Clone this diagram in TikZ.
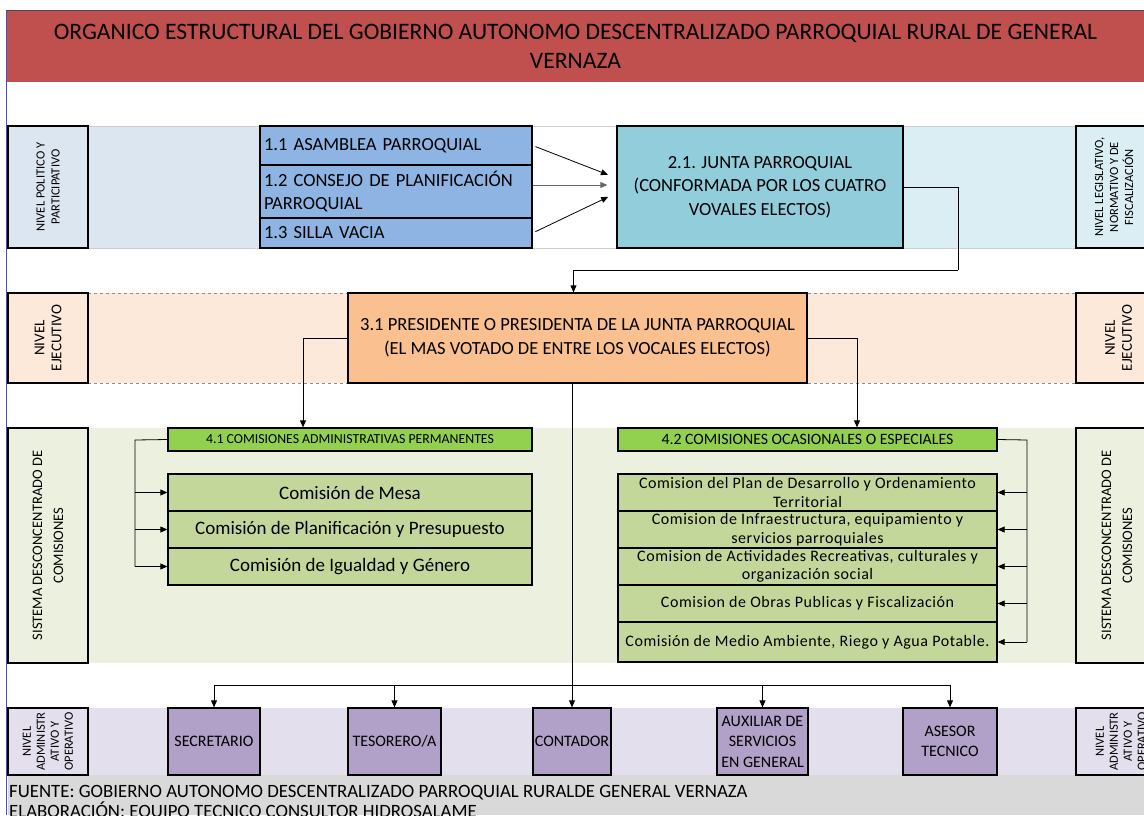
\documentclass[tikz,border=0pt]{standalone}
\usepackage{fontspec}
\setmainfont{Carlito}
\usetikzlibrary{arrows.meta,calc}
\definecolor{gvTitle}{HTML}{C0504D}
\definecolor{gvEdge}{HTML}{4B4BC8}
\definecolor{gvPolBand}{HTML}{DCE6F1}
\definecolor{gvLegBand}{HTML}{DAEEF3}
\definecolor{gvPolBox}{HTML}{8DB4E2}
\definecolor{gvJunta}{HTML}{92CDDC}
\definecolor{gvExeBand}{HTML}{FDE9D9}
\definecolor{gvPres}{HTML}{FAC090}
\definecolor{gvComBand}{HTML}{EBF1DE}
\definecolor{gvComHead}{HTML}{92D050}
\definecolor{gvComBox}{HTML}{C4D79B}
\definecolor{gvAdmBand}{HTML}{E4DFEC}
\definecolor{gvAdmBox}{HTML}{B1A0C7}
\definecolor{gvFoot}{HTML}{D9D9D9}
\newcommand{\gvfs}[2]{\fontsize{#1}{#2}\selectfont}

\begin{document}
\begin{tikzpicture}[
  x=1pt, y=-1pt,
  font=\gvfs{18.5}{23.5},
  box/.style={draw=black, line width=1.3pt, inner sep=2pt, align=center, text=black},
  side/.style={box, rotate=90, font=\gvfs{12.5}{15}},
  polbox/.style={box, fill=gvPolBox, minimum width=272pt, text width=264pt, align=left, inner sep=3pt},
  combox/.style={box, fill=gvComBox, minimum width=364pt, minimum height=37pt, inner sep=0pt, font=\gvfs{19}{22}},
  ocabox/.style={box, fill=gvComBox, minimum width=379pt, minimum height=37pt, inner sep=0pt,
    font=\gvfs{16}{18.5}\addfontfeatures{LetterSpace=3.5}},
  head/.style={box, fill=gvComHead, minimum height=23pt, inner sep=0pt, font=\gvfs{13.8}{15}},
  admbox/.style={box, fill=gvAdmBox, minimum height=67pt, inner sep=0pt, font=\gvfs{16}{20.5}},
  flow/.style={-{Triangle[length=7pt,width=6pt]}, line width=0.8pt},
  link/.style={line width=0.8pt}
]
\useasboundingbox (0,0) rectangle (1144,815);
\clip (0,0) rectangle (1144,815);
\fill[white] (0,0) rectangle (1144,815);

% ---- title ----------------------------------------------------------------
\draw[black!70, line width=0.6pt] (7,10) -- (1144,10);
\node[fill=gvTitle, minimum width=1137pt, minimum height=71pt, inner sep=0pt, align=center,
  font=\gvfs{23.6}{29}] (title) at (575.5,46.5)
  {ORGANICO ESTRUCTURAL DEL GOBIERNO AUTONOMO DESCENTRALIZADO PARROQUIAL RURAL DE GENERAL\\VERNAZA};

% ---- nivel politico / legislativo ------------------------------------------
\fill[gvPolBand] (88,126) rectangle (260,248);
\fill[gvLegBand] (903,126) rectangle (1076,248);
\draw[black!20, line width=1pt] (88,126) -- (1076,126) (88,248) -- (1076,248);
\node[side, fill=gvPolBand, minimum width=122pt, minimum height=80pt] (polLbl) at (48,187) {NIVEL POLITICO Y\\PARTICIPATIVO};
\node[polbox, minimum height=39pt] (asam) at (396,145.5) {1.1 ASAMBLEA PARROQUIAL};
\node[polbox, minimum height=53pt] (consejo) at (396,191.5) {1.2 CONSEJO DE PLANIFICACIÓN\\PARROQUIAL};
\node[polbox, minimum height=30pt] (silla) at (396,233) {1.3 SILLA VACIA};
\node[box, fill=gvJunta, minimum width=286pt, minimum height=122pt] (junta) at (760,187)
  {2.1. JUNTA PARROQUIAL\\(CONFORMADA POR LOS CUATRO\\VOVALES ELECTOS)};
\node[side, fill=gvLegBand, minimum width=122pt, minimum height=76pt] (legLbl) at (1114,187)
  {NIVEL LEGISLATIVO,\\NORMATIVO Y DE\\FISCALIZACIÓN};

\draw[flow, shorten <=3pt, shorten >=9pt] (asam.east) -- ($(junta.west)+(0,-9)$);
\draw[flow, black!60, shorten >=9pt] ($(consejo.east)+(0,-6.5)$) -- ($(junta.west)+(0,-2)$);
\draw[flow, shorten <=3pt, shorten >=9pt] (silla.east) -- ($(junta.west)+(0,6)$);

% ---- nivel ejecutivo -------------------------------------------------------
\fill[gvExeBand] (88,293) rectangle (1076,383);
\draw[black!45, dashed, line width=0.8pt] (88,293) -- (1076,293) (88,383) -- (1076,383);
\node[side, font=\gvfs{15}{17}, fill=gvExeBand, minimum width=90pt, minimum height=80pt] (exeLbl) at (48,338) {NIVEL\\EJECUTIVO};
\node[box, fill=gvPres, minimum width=459pt, minimum height=90pt] (pres) at (577.5,338)
  {3.1 PRESIDENTE O PRESIDENTA DE LA JUNTA PARROQUIAL\\(EL MAS VOTADO DE ENTRE LOS VOCALES ELECTOS)};
\node[side, font=\gvfs{15}{17}, fill=gvExeBand, minimum width=90pt, minimum height=85pt] (exeLblR) at (1118.5,338) {NIVEL\\EJECUTIVO};

\coordinate (jturn) at (958,270);
\draw[link] (junta.east) -| (jturn);
\draw[flow] (jturn) -| ([xshift=-4pt]pres.north);

% ---- sistema de comisiones -------------------------------------------------
\fill[gvComBand] (88,428) rectangle (1076,663);
\node[side, font=\gvfs{14.5}{21}, fill=gvComBand, minimum width=235pt, minimum height=80pt] (comLbl) at (48,545.5)
  {SISTEMA DESCONCENTRADO DE\\COMISIONES};
\node[side, font=\gvfs{14.5}{21}, fill=gvComBand, minimum width=235pt, minimum height=82pt] (comLblR) at (1117,545.5)
  {SISTEMA DESCONCENTRADO DE\\COMISIONES};

\node[head, minimum width=364pt] (hd41) at (350,439.5) {4.1 COMISIONES ADMINISTRATIVAS PERMANENTES};
\node[combox] (c41a) at (350,492.5) {Comisión de Mesa};
\node[combox] (c41b) at (350,529.5) {Comisión de Planificación y Presupuesto};
\node[combox] (c41c) at (350,566.5) {Comisión de Igualdad y Género};

\node[head, minimum width=379pt, font=\gvfs{15.8}{17}] (hd42) at (807.5,439.5) {4.2 COMISIONES OCASIONALES O ESPECIALES};
\node[ocabox] (c42a) at (807.5,492.5) {Comision del Plan de Desarrollo y Ordenamiento\\Territorial};
\node[ocabox] (c42b) at (807.5,529.5) {Comision de Infraestructura, equipamiento y\\servicios parroquiales};
\node[ocabox] (c42c) at (807.5,566.5) {Comision de Actividades Recreativas, culturales y\\organización social};
\node[ocabox] (c42d) at (807.5,603.5) {Comision de Obras Publicas y Fiscalización};
\node[ocabox, minimum height=40pt] (c42e) at (807.5,642) {Comisión de Medio Ambiente, Riego y Agua Potable.};

\draw[flow] (pres.west) -| ([xshift=-47pt]hd41.north);
\draw[flow] (pres.east) -| ([xshift=49.5pt]hd42.north);

\coordinate (lbar) at (135,440);
\draw[link] (hd41.west) -- (lbar) -- (lbar |- c41c.west);
\foreach \c in {c41a,c41b,c41c}
  \draw[flow] (lbar |- \c.west) -- (\c.west);

\coordinate (rbar) at (1027,440);
\draw[link] (hd42.east) -- (rbar) -- (rbar |- c42e.east);
\foreach \c in {c42a,c42b,c42c,c42d,c42e}
  \draw[flow] (rbar |- \c.east) -- (\c.east);

% ---- nivel administrativo y operativo -------------------------------------
\fill[gvAdmBand] (88,708) rectangle (1076,775);
\fill[gvFoot] (8,775) rectangle (1144,815);
\node[side, font=\gvfs{12.5}{14}, fill=gvAdmBand, minimum width=67pt, minimum height=80pt] (admLbl) at (48,741.5)
  {NIVEL\\ADMINISTR\\ATIVO Y\\OPERATIVO};
\node[admbox, minimum width=92pt] (sec) at (214,741.5) {SECRETARIO};
\node[admbox, minimum width=93pt] (tes) at (394.5,741.5) {TESORERO/A};
\node[admbox, minimum width=78pt] (cont) at (572,741.5) {CONTADOR};
\node[admbox, minimum width=91pt] (aux) at (762.5,741.5) {AUXILIAR DE\\SERVICIOS\\EN GENERAL};
\node[admbox, minimum width=94pt] (ase) at (950,741.5) {ASESOR\\TECNICO};
\node[side, font=\gvfs{12.5}{14}, fill=gvAdmBand, minimum width=67pt, minimum height=90pt] (admLblR) at (1121,741.5)
  {NIVEL\\ADMINISTR\\ATIVO Y\\OPERATIVO};

\coordinate (bus) at (0,685);
\draw[link] (sec.north |- bus) -- (ase.north |- bus);
\draw[link] (pres.south -| cont.north) -- (cont.north |- bus);
\foreach \b in {sec,tes,cont,aux,ase}
  \draw[flow] (\b.north |- bus) -- (\b.north);

% ---- fuente ----------------------------------------------------------------
\node[anchor=base west, inner sep=1pt, font=\gvfs{18.8}{22}] (fuente) at (8,797)
  {FUENTE: GOBIERNO AUTONOMO DESCENTRALIZADO PARROQUIAL RURALDE GENERAL VERNAZA};
\node[anchor=base west, inner sep=1pt, font=\gvfs{18.8}{22}] (elab) at (8,817)
  {ELABORACIÓN: EQUIPO TECNICO CONSULTOR HIDROSALAME};

\draw[gvEdge, line width=1.2pt] (6.5,10) -- (6.5,815);
\end{tikzpicture}
\end{document}
